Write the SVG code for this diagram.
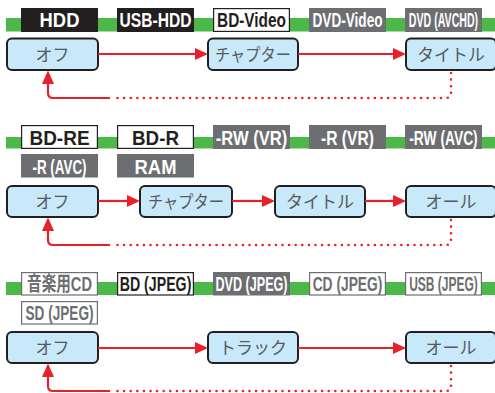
<svg xmlns="http://www.w3.org/2000/svg" width="495" height="393" viewBox="0 0 495 393">
<defs>
<style>
.bar{fill:#4cb848}
.lb{font-family:"Liberation Sans","Noto Sans CJK JP",Arial,sans-serif;font-weight:bold;font-size:20px;text-anchor:middle}
.blk{fill:#231f20}
.gry{fill:#6d6e71}
.wb{fill:#fff;stroke:#231f20;stroke-width:1.2}
.wg{fill:#fff;stroke:#6d6e71;stroke-width:1.2}
.tw{fill:#fff}
.tb{fill:#231f20}
.tg{fill:#6d6e71}
.node rect{fill:#c7e9f9;stroke:#231f20;stroke-width:2}
.node text{font-family:"Noto Sans CJK JP","Liberation Sans",sans-serif;font-size:17px;fill:#58595b;text-anchor:middle}
.ln{fill:none;stroke:#e8202a;stroke-width:2.2}
.dot{fill:none;stroke:#e8202a;stroke-width:2.6;stroke-linecap:round;stroke-dasharray:0 6.6}
.ah{fill:#e8202a}
</style>
</defs>

<!-- Section 1 -->
<g id="sec1-labels">
<rect class="bar" x="6" y="18" width="489" height="13.5"/>
<rect class="blk" x="21" y="8" width="77" height="24"/>
<text class="lb tw" transform="translate(59.5,27) scale(0.92,1)">HDD</text>
<rect class="blk" x="117" y="8" width="77" height="24"/>
<text class="lb tw" transform="translate(155.5,27) scale(0.78,1)">USB-HDD</text>
<rect class="wb" x="213.6" y="8.6" width="75.8" height="22.8"/>
<text class="lb tb" transform="translate(251.5,27) scale(0.77,1)">BD-Video</text>
<rect class="gry" x="309" y="8" width="77" height="24"/>
<text class="lb tw" transform="translate(347.5,27) scale(0.68,1)">DVD-Video</text>
<rect class="gry" x="405" y="8" width="77" height="24"/>
<text class="lb tw" transform="translate(443.5,26.5) scale(0.53,1)">DVD (AVCHD)</text>
</g>
<g id="n1-off" class="node"><rect x="7" y="38.5" width="91" height="31.5" rx="5"/><text x="52.5" y="60.5">オフ</text></g>
<g id="n1-chapter" class="node"><rect x="208" y="38.5" width="90" height="31.5" rx="5"/><text x="253" y="60.5" textLength="76" lengthAdjust="spacingAndGlyphs">チャプター</text></g>
<g id="n1-title" class="node"><rect x="406" y="38.5" width="90" height="31.5" rx="5"/><text x="451" y="60.5">タイトル</text></g>

<!-- Section 2 -->
<g id="sec2-labels">
<rect class="bar" x="6" y="137" width="489" height="11.5"/>
<rect class="wb" x="21.6" y="125.6" width="75.8" height="22.8"/>
<text class="lb tb" transform="translate(59.5,145) scale(0.95,1)">BD-RE</text>
<rect class="wb" x="117.6" y="125.6" width="75.8" height="22.8"/>
<text class="lb tb" transform="translate(155.5,145) scale(0.94,1)">BD-R</text>
<rect class="gry" x="213" y="125" width="77" height="24"/>
<text class="lb tw" transform="translate(251.5,144.5) scale(0.83,1)">-RW (VR)</text>
<rect class="gry" x="309" y="125" width="77" height="24"/>
<text class="lb tw" transform="translate(347.5,144.5) scale(0.78,1)">-R (VR)</text>
<rect class="gry" x="405" y="125" width="77" height="24"/>
<text class="lb tw" transform="translate(443.5,144.5) scale(0.69,1)">-RW (AVC)</text>
<rect class="gry" x="21" y="154" width="77" height="23.5"/>
<text class="lb tw" transform="translate(59.5,173.5) scale(0.67,1)">-R (AVC)</text>
<rect class="gry" x="117" y="154" width="77" height="23.5"/>
<text class="lb tw" transform="translate(155.5,174) scale(0.92,1)">RAM</text>
</g>
<g id="n2-off" class="node"><rect x="7" y="186" width="91" height="31" rx="5"/><text x="52.5" y="207.5">オフ</text></g>
<g id="n2-chapter" class="node"><rect x="140" y="186" width="92" height="31" rx="5"/><text x="186" y="207.5" textLength="76" lengthAdjust="spacingAndGlyphs">チャプター</text></g>
<g id="n2-title" class="node"><rect x="275" y="186" width="90" height="31" rx="5"/><text x="320" y="207.5">タイトル</text></g>
<g id="n2-all" class="node"><rect x="406" y="186" width="90" height="31" rx="5"/><text x="451" y="207.5">オール</text></g>

<!-- Section 3 -->
<g id="sec3-labels">
<rect class="bar" x="6" y="282" width="489" height="13"/>
<rect class="wg" x="21.6" y="272.6" width="75.8" height="22.4"/>
<text class="lb tg" transform="translate(59.5,291) scale(0.73,1)">音楽用CD</text>
<rect class="wb" x="117.6" y="272.6" width="75.8" height="22.4"/>
<text class="lb tb" transform="translate(155.5,290.5) scale(0.71,1)">BD (JPEG)</text>
<rect class="gry" x="213" y="272" width="77" height="23.5"/>
<text class="lb tw" transform="translate(251.5,290.5) scale(0.63,1)">DVD (JPEG)</text>
<rect class="wg" x="309.6" y="272.6" width="75.8" height="22.4"/>
<text class="lb tg" transform="translate(347.5,290.5) scale(0.69,1)">CD (JPEG)</text>
<rect class="wg" x="405.6" y="272.6" width="75.8" height="22.4"/>
<text class="lb tg" transform="translate(443.5,290.5) scale(0.6,1)">USB (JPEG)</text>
<rect class="wg" x="21.6" y="301.6" width="75.8" height="22.4"/>
<text class="lb tg" transform="translate(59.5,320) scale(0.68,1)">SD (JPEG)</text>
</g>
<g id="n3-off" class="node"><rect x="7" y="332" width="91" height="31" rx="5"/><text x="52.5" y="353.5">オフ</text></g>
<g id="n3-track" class="node"><rect x="208" y="332" width="90" height="31" rx="5"/><text x="253" y="353.5">トラック</text></g>
<g id="n3-all" class="node"><rect x="406" y="332" width="90" height="31" rx="5"/><text x="451" y="353.5">オール</text></g>

<!-- Connectors -->
<g id="connectors">
<path class="ln" d="M98 54H196"/><polygon class="ah" points="208,54 195,48 195,60"/>
<path class="ln" d="M298 54H394"/><polygon class="ah" points="406,54 393,48 393,60"/>
<path class="dot" d="M451 73V93Q451 98 446 98H112"/>
<path class="ln" d="M110 98H53Q48 98 48 93V82"/><polygon class="ah" points="48,70.5 42,84 54,84"/>
<path class="ln" d="M98 201H128"/><polygon class="ah" points="140,201 127,195 127,207"/>
<path class="ln" d="M232 201H263"/><polygon class="ah" points="275,201 262,195 262,207"/>
<path class="ln" d="M365 201H394"/><polygon class="ah" points="406,201 393,195 393,207"/>
<path class="dot" d="M451 220V240Q451 245 446 245H112"/>
<path class="ln" d="M110 245H53Q48 245 48 240V229"/><polygon class="ah" points="48,217.5 42,231 54,231"/>
<path class="ln" d="M98 348H196"/><polygon class="ah" points="208,348 195,342 195,354"/>
<path class="ln" d="M298 348H394"/><polygon class="ah" points="406,348 393,342 393,354"/>
<path class="dot" d="M451 366V386Q451 391 446 391H112"/>
<path class="ln" d="M110 391H53Q48 391 48 386V375"/><polygon class="ah" points="48,363.5 42,377 54,377"/>
</g>
</svg>
